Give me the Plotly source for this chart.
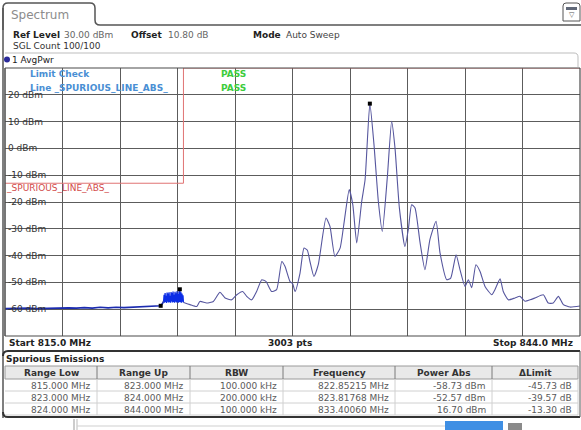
import plotly.graph_objects as go

W, H = 581, 430

# ---------------- data ----------------
x_start, x_stop = 815.0, 844.0
y_bottom, y_top = -70, 30
sweep_points = 3003
ref_level = "30.00 dBm"
offset = "10.80 dB"
mode = "Auto Sweep"
sgl_count = "100/100"

# low-band noise floor (815 - 823 MHz)
base_freq = [815.0, 815.4, 815.8, 816.2, 816.6, 817.0, 817.4, 817.8, 818.2, 818.6,
             819.0, 819.4, 819.8, 820.2, 820.6, 821.0, 821.4, 821.8, 822.2, 822.5,
             822.85215, 822.95, 823.0]
base_level = [-59.8, -59.7, -59.8, -59.6, -59.8, -59.7, -59.6, -59.7, -59.5, -59.6,
              -59.4, -59.6, -59.3, -59.5, -59.3, -59.4, -59.2, -59.1, -59.0, -58.9,
              -58.73, -57.8, -57.0]

# dense 200 kHz RBW band (823 - 824 MHz)
band_freq = [823.000, 823.025, 823.050, 823.075, 823.100, 823.125, 823.150, 823.175,
             823.200, 823.225, 823.250, 823.275, 823.300, 823.325, 823.350, 823.375,
             823.400, 823.425, 823.450, 823.475, 823.500, 823.525, 823.550, 823.575,
             823.600, 823.625, 823.650, 823.675, 823.700, 823.725, 823.750, 823.775,
             823.800, 823.818, 823.850, 823.875, 823.900, 823.925, 823.950, 823.975,
             824.000]
band_level = [-57.0, -54.6, -57.6, -54.0, -57.3, -55.0, -57.7, -53.8, -57.2, -54.2,
              -57.5, -53.7, -57.4, -55.0, -57.6, -53.6, -57.1, -54.0, -57.5, -53.4,
              -57.3, -54.6, -57.6, -53.5, -57.2, -54.1, -57.5, -53.3, -57.4, -54.3,
              -57.6, -53.4, -57.3, -52.57, -57.4, -53.7, -57.6, -54.2, -57.2, -54.8,
              -57.5]

# main band trace (824 - 844 MHz)
main_freq = [824.00, 824.08, 824.33, 824.67, 824.83, 825.17, 825.51, 825.84, 826.10, 826.43,
             826.69, 826.99, 827.19, 827.44, 827.69, 827.95, 828.16, 828.45, 828.70, 828.96,
             829.12, 829.37, 829.51, 829.63, 829.88, 830.08, 830.25, 830.38, 830.58, 830.80,
             831.19, 831.39, 831.64, 831.90, 832.11, 832.36, 832.54, 832.74, 832.99, 833.16,
             833.4006, 833.61, 833.83, 834.03, 834.28, 834.50, 834.67, 834.89, 835.17, 835.34,
             835.51, 835.68, 835.93, 836.18, 836.43, 836.74, 836.94, 837.28, 837.48, 837.75,
             837.95, 838.20, 838.37, 838.54, 838.75, 838.96, 839.21, 839.55, 839.71, 839.97,
             840.13, 840.38, 840.72, 840.97, 841.23, 841.48, 841.73, 842.15, 842.40, 842.65,
             842.91, 843.16, 843.50, 844.00]
main_level = [-57.5, -57.7, -58.3, -59.0, -57.1, -57.7, -57.1, -53.7, -55.8, -56.5,
              -54.6, -53.4, -55.2, -56.5, -53.4, -49.0, -49.6, -53.4, -52.7, -42.2,
              -44.0, -49.6, -50.5, -53.4, -46.5, -37.2, -38.0, -42.2, -47.8, -43.4,
              -26.0, -29.1, -40.3, -37.2, -27.2, -15.4, -21.0, -35.3, -19.8, -11.7,
              16.70, 1.4, -19.8, -31.0, -11.0, 10.1, 0.1, -22.2, -36.6, -30.3,
              -21.0, -22.2, -35.0, -45.3, -34.0, -27.2, -39.0, -49.0, -48.4, -39.7,
              -45.3, -51.5, -49.0, -52.0, -43.4, -45.9, -51.5, -54.6, -52.7, -48.7,
              -53.4, -56.5, -55.8, -55.2, -57.0, -56.5, -55.8, -54.6, -57.7, -57.7,
              -55.2, -58.3, -59.2, -58.8]

limit_freq = [815.0, 824.0, 824.0, 844.0]
limit_level = [-13.0, -13.0, 30.0, 30.0]

marker_freq = [822.85215, 823.81768, 833.40060]
marker_level = [-58.73, -52.57, 16.70]

y_ticks = [20, 10, 0, -10, -20, -30, -40, -50, -60]
y_tick_labels = ["20 dBm", "10 dBm", "0 dBm", "-10 dBm", "-20 dBm",
                 "-30 dBm", "-40 dBm", "-50 dBm", "-60 dBm"]

table_headers = ["Range Low", "Range Up", "RBW", "Frequency", "Power Abs", "ΔLimit"]
range_low = [815.000, 823.000, 824.000]
range_up = [823.000, 824.000, 844.000]
rbw_khz = [100.000, 200.000, 100.000]
peak_freq = [822.85215, 823.81768, 833.40060]
power_abs = [-58.73, -52.57, 16.70]
delta_limit = [-45.73, -39.57, -13.30]

# ---------------- helpers ----------------
FONT = "DejaVu Sans"
PX0, PX1 = 5, 580
PY0, PY1 = 68, 336


def X(px):
    return px / W


def Y(py):
    return 1 - py / H


def txt(x, y, s, size=9, color="#222", bold=False, anchor="left", yanchor="middle"):
    return dict(x=X(x), y=Y(y), xref="paper", yref="paper",
                text=f"<b>{s}</b>" if bold else s, showarrow=False,
                xanchor=anchor, yanchor=yanchor, borderpad=0,
                font=dict(size=size, color=color, family=FONT))


def line(x0, y0, x1, y1, color="#444", width=1, layer="above"):
    return dict(type="line", xref="paper", yref="paper", x0=X(x0), y0=Y(y0),
                x1=X(x1), y1=Y(y1), line=dict(color=color, width=width), layer=layer)


def rect(x0, y0, x1, y1, fill=None, color=None, width=1, layer="above"):
    d = dict(type="rect", xref="paper", yref="paper", x0=X(x0), y0=Y(y0),
             x1=X(x1), y1=Y(y1), layer=layer,
             line=dict(color=color or "rgba(0,0,0,0)", width=width if color else 0))
    if fill:
        d["fillcolor"] = fill
    return d


def path(cmds, color="#444", width=1, fill=None):
    parts = []
    for c in cmds:
        op = c[0]
        nums = c[1:]
        coords = []
        for i in range(0, len(nums), 2):
            coords.append(f"{X(nums[i]):.5f},{Y(nums[i + 1]):.5f}")
        parts.append(op + " " + " ".join(coords))
    d = dict(type="path", xref="paper", yref="paper", path=" ".join(parts),
             line=dict(color=color, width=width))
    if fill:
        d["fillcolor"] = fill
    return d


fig = go.Figure()

# ---------------- traces ----------------
fig.add_trace(go.Scatter(x=limit_freq, y=limit_level, mode="lines",
                         line=dict(color="#e07272", width=1), hoverinfo="skip"))
fig.add_trace(go.Scatter(x=base_freq, y=base_level, mode="lines",
                         line=dict(color="#1c2cb0", width=1.6), hoverinfo="skip"))
fig.add_trace(go.Scatter(x=band_freq, y=band_level, mode="lines",
                         line=dict(color="#0b2de6", width=1.3), hoverinfo="skip"))
fig.add_trace(go.Scatter(x=main_freq, y=main_level, mode="lines",
                         line=dict(color="#56569e", width=1.1, shape="spline", smoothing=0.5),
                         hoverinfo="skip"))
fig.add_trace(go.Scatter(x=marker_freq, y=marker_level, mode="markers",
                         marker=dict(symbol="square", size=4, color="#000"),
                         hoverinfo="skip"))

div = (x_stop - x_start) / 10
fig.update_xaxes(range=[x_start, x_stop], domain=[X(PX0), X(PX1)],
                 tickvals=[x_start + div * k for k in range(11)], showticklabels=False,
                 showgrid=True, gridcolor="#5c5c5c", gridwidth=1, zeroline=False,
                 showline=False, ticks="")
fig.update_yaxes(range=[y_bottom, y_top], domain=[Y(PY1), Y(PY0)],
                 tickvals=list(range(y_bottom, y_top + 1, 10)), showticklabels=False,
                 showgrid=True, gridcolor="#5c5c5c", gridwidth=1, zeroline=False,
                 showline=False, ticks="")

shapes = []
ann = []


def ypx(v):
    return PY1 - (v - y_bottom) / (y_top - y_bottom) * (PY1 - PY0)


# y tick labels inside plot, with white knock-out behind (between grid and traces)
label_w = {"20 dBm": 36, "10 dBm": 36, "0 dBm": 30}
for v, lab in zip(y_ticks, y_tick_labels):
    w = label_w.get(lab, 40)
    yy = ypx(v)
    shapes.append(dict(type="rect", xref="paper", yref="paper",
                       x0=X(PX0 + 1), x1=X(7 + w + 1), y0=Y(yy - 5), y1=Y(yy + 5),
                       fillcolor="white", line=dict(width=0), layer="between"))
    ann.append(txt(7, yy, lab, size=9, color="#333"))

# plot frame drawn above traces
shapes.append(line(PX0, PY0, PX1, PY0, color="#4a4a4a", width=1.2))
shapes.append(line(PX0, PY1, PX1, PY1, color="#4a4a4a", width=1.2))
shapes.append(line(PX0, PY0, PX0, PY1, color="#4a4a4a", width=1.5))
shapes.append(line(PX1, PY0, PX1, PY1, color="#4a4a4a", width=1.2))

# ---------------- header ----------------
shapes.append(path([("M", 3, 30), ("L", 3, 8), ("Q", 3, 3, 8, 3), ("L", 90, 3),
                    ("Q", 95, 3, 95, 8), ("L", 95, 20), ("Q", 95, 25, 100, 25),
                    ("L", 581, 25)], color="#555", width=1.5))
ann.append(txt(10, 15, "Spectrum", size=12, color="#8c8c8c"))

# top-right icon
shapes.append(path([("M", 563, 6), ("Q", 563, 3, 566, 3), ("L", 577, 3), ("Q", 580, 3, 580, 6),
                    ("L", 580, 21), ("L", 563, 21), ("Z",)], color="#555", width=1,
                   fill="white"))
shapes.append(rect(566, 7, 577, 10, fill="#606878"))
ann.append(txt(571.5, 15, "▽", size=7, color="#555", anchor="center"))

ann.append(txt(12, 35, "Ref Level", bold=True, color="#222"))
ann.append(txt(63, 35, ref_level, color="#666"))
ann.append(txt(130, 35, "Offset", bold=True, color="#222"))
ann.append(txt(167, 35, offset, color="#666"))
ann.append(txt(252, 35, "Mode", bold=True, color="#222"))
ann.append(txt(285, 35, mode, color="#444"))
ann.append(txt(12, 46, f"SGL Count {sgl_count}", color="#333"))

shapes.append(path([("M", 5, 53), ("L", 574, 53), ("Q", 578, 53, 578, 57), ("L", 578, 67)],
                   color="#bdbdbd", width=1))
shapes.append(dict(type="circle", xref="paper", yref="paper", x0=X(4), x1=X(10),
                   y0=Y(56.5), y1=Y(62.5), fillcolor="#2a2a9a", line=dict(width=0)))
ann.append(txt(11, 59.5, "1 AvgPwr", color="#222"))

# outer left border
shapes.append(line(3, 8, 3, 418, color="#555", width=1.5))

# limit check legend
ann.append(txt(29, 74, "Limit Check", bold=True, color="#4a8fd4"))
ann.append(txt(29, 87.5, "Line _SPURIOUS_LINE_ABS_", bold=True, color="#4a8fd4"))
ann.append(txt(220, 74, "PASS", bold=True, color="#3ccc3c"))
ann.append(txt(220, 87.5, "PASS", bold=True, color="#3ccc3c"))
ann.append(txt(5, 188.5, "_SPURIOUS_LINE_ABS_", color="#d24a4a"))

# ---------------- footer of diagram ----------------
ann.append(txt(8, 342.5, f"Start {x_start:.1f} MHz", bold=True, color="#222"))
ann.append(txt(290, 342.5, f"{sweep_points} pts", bold=True, color="#222", anchor="center"))
ann.append(txt(574, 342.5, f"Stop {x_stop:.1f} MHz", bold=True, color="#222", anchor="right"))

# ---------------- spurious emissions table ----------------
shapes.append(path([("M", 3, 356), ("Q", 3, 351, 8, 351), ("L", 580, 351)],
                   color="#333", width=2))
shapes.append(path([("M", 3, 412), ("Q", 3, 417, 8, 417), ("L", 580, 417)],
                   color="#333", width=2))
shapes.append(line(580, 351, 580, 417, color="#555", width=1))
ann.append(txt(5, 358.5, "Spurious Emissions", bold=True, color="#222"))

col_edges = [5, 97, 190, 283, 395, 492, 578]
row_edges = [366, 379, 391, 403, 415]
shapes.append(rect(col_edges[0], row_edges[0], col_edges[-1], row_edges[1],
                   fill="#e9e9e9", color="#9a9a9a", width=1))
for yy in row_edges[2:]:
    shapes.append(line(col_edges[0], yy, col_edges[-1], yy, color="#d0d0d0"))
for xx in col_edges[1:-1]:
    shapes.append(line(xx, row_edges[0], xx, row_edges[1], color="#7a7a7a"))
    shapes.append(line(xx, row_edges[1], xx, row_edges[-1], color="#d0d0d0"))
shapes.append(line(col_edges[-1], row_edges[1], col_edges[-1], row_edges[-1], color="#d0d0d0"))

for i, h in enumerate(table_headers):
    cx = (col_edges[i] + col_edges[i + 1]) / 2
    ann.append(txt(cx, (row_edges[0] + row_edges[1]) / 2 + 0.5, h, bold=True,
                   color="#333", anchor="center"))

rows = []
for r in range(3):
    rows.append([f"{range_low[r]:.3f} MHz", f"{range_up[r]:.3f} MHz",
                 f"{rbw_khz[r]:.3f} kHz", f"{peak_freq[r]:.5f} MHz",
                 f"{power_abs[r]:.2f} dBm", f"{delta_limit[r]:.2f} dB"])
for r, row in enumerate(rows):
    cy = (row_edges[r + 1] + row_edges[r + 2]) / 2 + 0.5
    for c, val in enumerate(row):
        ann.append(txt(col_edges[c + 1] - 5, cy, val, color="#5a5a5a", anchor="right"))

# ---------------- status bar bits ----------------
shapes.append(line(74, 419, 74, 430, color="#999", width=1))
shapes.append(line(77, 419, 77, 430, color="#bbb", width=1))
shapes.append(line(77, 426, 445, 426, color="#cfcfcf", width=1))
shapes.append(rect(445, 421, 503, 430, fill="#3f8fe4"))
shapes.append(rect(508, 423, 522, 430, fill="#8a8a8a"))

fig.update_layout(width=W, height=H, margin=dict(l=0, r=0, t=0, b=0),
                  paper_bgcolor="white", plot_bgcolor="white", showlegend=False,
                  shapes=shapes, annotations=ann,
                  font=dict(family=FONT, size=9, color="#222"))

fig.write_html("out.html", config={"displayModeBar": False},
               post_script="document.body.style.margin='0';document.body.style.overflow='hidden';")
